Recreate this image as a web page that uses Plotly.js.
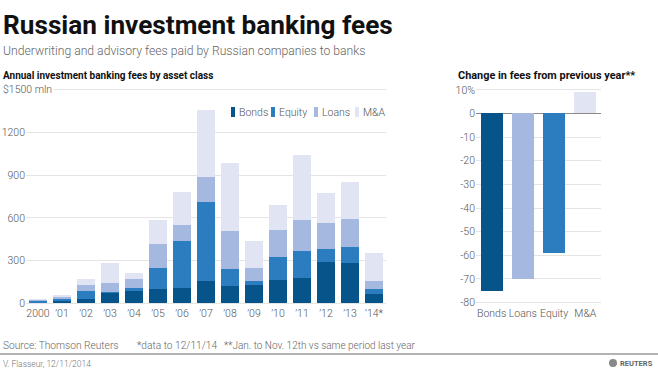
<!DOCTYPE html>
<html><head><meta charset="utf-8"><script src="https://cdn.plot.ly/plotly-3.0.1.min.js"></script></head>
<body style="margin:0;background:#fff">
<div id="c" style="width:658px;height:370px"></div>
<script>
// ---- data ----
const years = ['2000','’01','’02','’03','’04','’05','’06','’07','’08','’09','’10','’11','’12','’13','’14*'];
const bonds  = [5, 18, 28, 72, 84, 103, 105, 155, 122, 127, 162, 176, 290, 285, 68];
const equity = [12, 10, 61, 5, 24, 147, 335, 557, 119, 32, 166, 190, 94, 109, 35];
const loans  = [7, 14, 38, 68, 61, 169, 113, 174, 270, 89, 190, 218, 178, 199, 52];
const ma     = [6, 18, 46, 140, 42, 167, 232, 471, 478, 190, 171, 459, 216, 262, 196];
const seriesNames = ['Bonds','Equity','Loans','M&A'];
const changeCats = ['Bonds','Loans','Equity','M&A'];
const changeVals = [-75, -70, -59, 9];
const yTicks = [0, 300, 600, 900, 1200, 1500];
const y2Ticks = [-80, -70, -60, -50, -40, -30, -20, -10, 0, 10];

// ---- style ----
const colors = {'Bonds':'#07548b','Equity':'#2b7dbf','Loans':'#a5b8e0','M&A':'#e1e5f3'};
const W = 658, H = 370;
const px = x => x / W, py = y => 1 - y / H;
const font = 'Roboto, sans-serif';
const tickFont = {family: font, size: 10.5, color: '#555', weight: 300};
const yDom = [py(305.4), py(87.7)];
const seriesVals = [bonds, equity, loans, ma];

const traces = seriesNames.map((n, i) => ({
  type: 'bar', x: years, y: seriesVals[i], name: n,
  marker: {color: colors[n], line: {width: 0}},
  xaxis: 'x', yaxis: 'y', hoverinfo: 'x+y+name'
}));
traces.push({
  type: 'bar', x: changeCats, y: changeVals, xaxis: 'x2', yaxis: 'y2', width: 0.7,
  marker: {color: changeCats.map(c => colors[c]), line: {width: 0}}
});

const ann = [];
function txt(x, y, text, size, color, weight, anchor, extra) {
  ann.push(Object.assign({x: px(x), y: py(y), xref: 'paper', yref: 'paper', xanchor: anchor || 'left', yanchor: 'middle',
    showarrow: false, text: text, font: {family: font, size: size, color: color, weight: weight}}, extra || {}));
}
txt(1, 25, 'Russian investment banking fees', 26.2, '#111', 700);
txt(1, 51, 'Underwriting and advisory fees paid by Russian companies to banks', 12.2, '#666', 300);
txt(1, 75, 'Annual investment banking fees by asset class', 10, '#111', 700);
txt(456, 75, 'Change in fees from previous year**', 10.9, '#111', 700);
txt(1, 90, '$1500 mln', 10.5, '#555', 300, 'left', {bgcolor: '#fff', borderpad: 1});
txt(1, 345, 'Source: Thomson Reuters', 10.2, '#666', 300);
txt(135, 345, '*data to 12/11/14', 10.2, '#666', 300);
txt(222, 345, '**Jan. to Nov. 12th vs same period last year', 10, '#666', 300);
txt(1, 364, 'V. Flasseur, 12/11/2014', 8.5, '#777', 300);
txt(655, 363, 'REUTERS', 7.5, '#666', 700, 'right');

// custom legend
const legX = [231, 271, 314, 355];
const shapes = [];
seriesNames.forEach((n, i) => {
  shapes.push({type: 'rect', xref: 'paper', yref: 'paper', x0: px(legX[i]), x1: px(legX[i] + 4), y0: py(117), y1: py(107),
    fillcolor: colors[n], line: {width: 0}});
  txt(legX[i] + 6, 112, n.replace('&', '&amp;'), 10.5, '#555', 300);
});
// footer divider
shapes.push({type: 'line', xref: 'paper', yref: 'paper', x0: 0, x1: 1, y0: py(354), y1: py(354), line: {color: '#999', width: 1.5}});
// reuters mark
shapes.push({type: 'circle', xref: 'paper', yref: 'paper', x0: px(609), x1: px(617), y0: py(367), y1: py(359), fillcolor: '#888', line: {width: 0}});

const layout = {
  width: W, height: H, margin: {l: 0, r: 0, t: 0, b: 0},
  paper_bgcolor: '#fff', plot_bgcolor: '#fff',
  showlegend: false, barmode: 'stack', bargap: 0.27,
  xaxis: {domain: [px(26), px(386)], type: 'category', anchor: 'y', tickfont: tickFont, ticks: '', showgrid: false, showline: false, fixedrange: true},
  yaxis: {domain: yDom, anchor: 'x', range: [-15, 1515], tickvals: yTicks, ticktext: yTicks.map(v => v === 1500 ? '' : String(v)),
    tickfont: tickFont, gridcolor: '#e4e4e4', gridwidth: 1, zeroline: true, zerolinecolor: '#e4e4e4', ticks: '', showline: false, fixedrange: true},
  xaxis2: {domain: [px(476), px(601)], type: 'category', anchor: 'y2', tickfont: tickFont, ticks: '', showgrid: false, showline: false, fixedrange: true},
  yaxis2: {domain: yDom, anchor: 'x2', range: [-81.2, 10.9], tickvals: y2Ticks, ticktext: y2Ticks.map(v => v === 10 ? '10%' : String(v)),
    tickfont: tickFont, gridcolor: '#e4e4e4', gridwidth: 1, zeroline: true, zerolinecolor: '#8a8a8a', zerolinewidth: 1, ticks: '', showline: false, fixedrange: true},
  annotations: ann, shapes: shapes
};
Plotly.newPlot('c', traces, layout, {displayModeBar: false, staticPlot: true});
</script></body></html>
